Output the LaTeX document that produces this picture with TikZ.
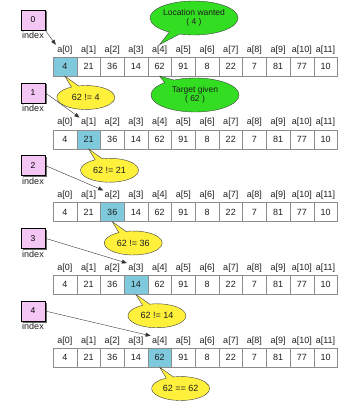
\documentclass[tikz,border=0pt]{standalone}
\usepackage{fontspec}
\setmainfont{Liberation Sans}
\usetikzlibrary{shapes.geometric, shapes.callouts, arrows.meta, positioning, calc, shadows}
\definecolor{Ink}{HTML}{1E1E1E}
\definecolor{Rule}{HTML}{8C8C8C}
\definecolor{Hit}{HTML}{7FC9DD}
\definecolor{IdxFill}{HTML}{F4C6F4}
\definecolor{NoteFill}{HTML}{FFF03C}
\definecolor{InfoFill}{HTML}{33DD22}

\begin{document}
\begin{tikzpicture}[
            x=1pt, y=-1pt,
            cell/.style={
                rectangle,
                draw=Rule,
                minimum width=23.7pt,
                minimum height=19pt,
                inner sep=0pt,
                font=\fontsize{9}{10}\selectfont,
                text=Ink
            },
            celltag/.style={inner sep=1pt, font=\fontsize{9}{10}\selectfont, text=Ink},
            idxbox/.style={
                rectangle,
                draw=black,
                fill=IdxFill,
                minimum width=24pt,
                minimum height=20pt,
                inner sep=0pt,
                font=\fontsize{8.5}{9}\selectfont,
                drop shadow={shadow xshift=1.5pt, shadow yshift=-1.5pt, fill=black!60, opacity=1}
            },
            idxtag/.style={inner sep=1pt, font=\fontsize{9}{10}\selectfont, text=Ink},
            note/.style={
                ellipse callout,
                draw=black!75,
                fill=NoteFill,
                minimum width=58pt,
                minimum height=24pt,
                inner sep=0pt,
                font=\fontsize{9}{10}\selectfont,
                text=Ink
            },
            info/.style={
                ellipse callout,
                draw=black!75,
                fill=InfoFill,
                minimum width=88pt,
                minimum height=34pt,
                inner sep=0pt,
                align=center,
                font=\fontsize{8.5}{9.5}\selectfont,
                text=Ink
            },
            ptr/.style={-{Triangle[length=5pt, width=4pt]}, draw=black!80, thin}
        ]
            \useasboundingbox (0,0) rectangle (339,403);

            % One row per comparison step
            \foreach \r/\msg in {0/{62 != 4}, 1/{62 != 21}, 2/{62 != 36}, 3/{62 != 14}, 4/{62 == 62}}{
                \pgfmathsetmacro\yy{66.5+72.75*\r}
                \foreach \v [count=\i from 0] in {4,21,36,14,62,91,8,22,7,81,77,10}{
                    \ifnum\i=\r \def\fillc{Hit}\else\def\fillc{white}\fi
                    \node[cell, fill=\fillc] (c\r-\i) at (64.85+23.7*\i, \yy) {\v};
                    \node[celltag, above=1.5pt of c\r-\i] (t\r-\i) {a[\i]};
                }
                \node[idxbox] (idx\r) at (33, \yy-46.5) {\r};
                \node[idxtag, below=1pt of idx\r] (it\r) {index};
                \ifnum\r=0 \def\from{south east}\else\def\from{east}\fi
                \coordinate (aim\r) at ($(c\r-\r.north west)+(3,-12)$);
                \draw[ptr] (idx\r.\from) -- (aim\r);
                \node[note, callout absolute pointer=(c\r-\r.south)] (n\r) at ($(c\r-\r)+(21,31)$) {\msg};
            }

            % Search key and wanted position
            \node[info, callout absolute pointer=(t0-4.north)] (want) at (194,18) {Location wanted\\( 4 )};
            \node[info, callout absolute pointer=(c0-4.south)] (given) at (195,95) {Target given\\( 62 )};
        \end{tikzpicture}
\end{document}
